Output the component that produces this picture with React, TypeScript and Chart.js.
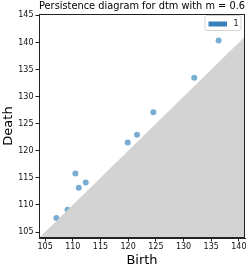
import React, { useEffect, useRef } from "react";
import { Chart, registerables } from "chart.js";

Chart.register(...registerables);

const birth = [107.04, 109.05, 110.47, 111.08, 112.34, 119.92, 121.6, 124.54, 131.93, 136.34];
const death = [107.58, 109.1, 115.81, 113.17, 114.15, 121.53, 122.95, 127.1, 133.47, 140.35];
const xTicks = [105, 110, 115, 120, 125, 130, 135, 140];
const yTicks = [105, 110, 115, 120, 125, 130, 135, 140, 145];
const xRange = [103.9, 141.1];
const yRange = [103.9, 145.25];
const seriesLabel = "1";
const titleText = "Persistence diagram for dtm with m = 0.6";

const FONT = "'DejaVu Sans', sans-serif";

const framePlugin = {
  id: "frame",
  afterDraw(chart: any) {
    const { ctx, chartArea } = chart;
    const { left, top, right, bottom } = chartArea;
    ctx.save();
    ctx.strokeStyle = "#222";
    ctx.lineWidth = 1;
    ctx.strokeRect(left + 0.5, top + 0.5, right - left - 1, bottom - top - 1);
    const lw = 36, lh = 15;
    const lx = right - 4 - lw, ly = top + 1.5;
    const r = 2;
    ctx.beginPath();
    ctx.moveTo(lx + r, ly);
    ctx.lineTo(lx + lw - r, ly);
    ctx.quadraticCurveTo(lx + lw, ly, lx + lw, ly + r);
    ctx.lineTo(lx + lw, ly + lh - r);
    ctx.quadraticCurveTo(lx + lw, ly + lh, lx + lw - r, ly + lh);
    ctx.lineTo(lx + r, ly + lh);
    ctx.quadraticCurveTo(lx, ly + lh, lx, ly + lh - r);
    ctx.lineTo(lx, ly + r);
    ctx.quadraticCurveTo(lx, ly, lx + r, ly);
    ctx.closePath();
    ctx.fillStyle = "rgba(255,255,255,0.8)";
    ctx.fill();
    ctx.strokeStyle = "#d6d6d6";
    ctx.lineWidth = 1;
    ctx.stroke();
    ctx.fillStyle = "#3a80ba";
    ctx.fillRect(lx + 3.5, ly + 6, 18.5, 5);
    ctx.fillStyle = "#111";
    ctx.font = "8px " + FONT;
    ctx.textAlign = "left";
    ctx.textBaseline = "middle";
    ctx.fillText(seriesLabel, lx + 28.5, ly + 8.5);
    ctx.restore();
  },
};

export default function App() {
  const ref = useRef<HTMLCanvasElement>(null);
  useEffect(() => {
    document.body.style.margin = "0";
    const points = birth.map((b, i) => ({ x: b, y: death[i] }));
    const chart = new Chart(ref.current as HTMLCanvasElement, {
      type: "scatter",
      data: {
        datasets: [
          {
            type: "line",
            label: "diag",
            data: [
              { x: xRange[0], y: xRange[0] },
              { x: xRange[1], y: xRange[1] },
            ],
            borderWidth: 0,
            borderColor: "rgba(0,0,0,0)",
            backgroundColor: "#d3d3d3",
            pointRadius: 0,
            fill: "start",
            order: 0,
          } as any,
          {
            label: seriesLabel,
            data: points,
            backgroundColor: "rgba(31,119,180,0.6)",
            borderWidth: 0,
            pointRadius: 3,
            order: 1,
          },
        ],
      },
      options: {
        responsive: false,
        animation: false,
        layout: { padding: { left: 0, right: 4, top: 0, bottom: 0 } },
        plugins: {
          legend: { display: false },
          tooltip: { enabled: false },
          title: {
            display: true,
            text: titleText,
            fullSize: false,
            color: "#000",
            font: { family: FONT, size: 10, weight: "normal", lineHeight: 1.2 },
            padding: { top: 0, bottom: 2 },
          },
        },
        scales: {
          x: {
            type: "linear",
            min: xRange[0],
            max: xRange[1],
            afterBuildTicks: (s: any) => {
              s.ticks = xTicks.map((v) => ({ value: v }));
            },
            afterFit: (s: any) => {
              s.height = 29;
            },
            grid: { drawOnChartArea: false, drawTicks: true, tickLength: 3.5, tickColor: "#222" },
            border: { display: true, color: "#222", width: 1 },
            ticks: { color: "#111", font: { family: FONT, size: 8 }, padding: 1, maxRotation: 0, autoSkip: false },
            title: {
              display: true,
              text: "Birth",
              color: "#000",
              font: { family: FONT, size: 13, lineHeight: 1.0 },
              padding: { top: 0, bottom: 0 },
            },
          },
          y: {
            type: "linear",
            min: yRange[0],
            max: yRange[1],
            afterBuildTicks: (s: any) => {
              s.ticks = yTicks.map((v) => ({ value: v }));
            },
            afterFit: (s: any) => {
              s.width = 39;
            },
            grid: { drawOnChartArea: false, drawTicks: true, tickLength: 3.5, tickColor: "#222" },
            border: { display: true, color: "#222", width: 1 },
            ticks: { color: "#111", font: { family: FONT, size: 8 }, padding: 2, autoSkip: false },
            title: {
              display: true,
              text: "Death",
              color: "#000",
              font: { family: FONT, size: 13, lineHeight: 1.2 },
              padding: { top: 0.5, bottom: 0 },
            },
          },
        },
      },
      plugins: [framePlugin],
    });
    return () => chart.destroy();
  }, []);
  return (
    <div style={{ position: "absolute", left: 0, top: 0, width: 249, height: 267 }}>
      <canvas ref={ref} width={249} height={267} style={{ width: 249, height: 267, display: "block" }} />
    </div>
  );
}
